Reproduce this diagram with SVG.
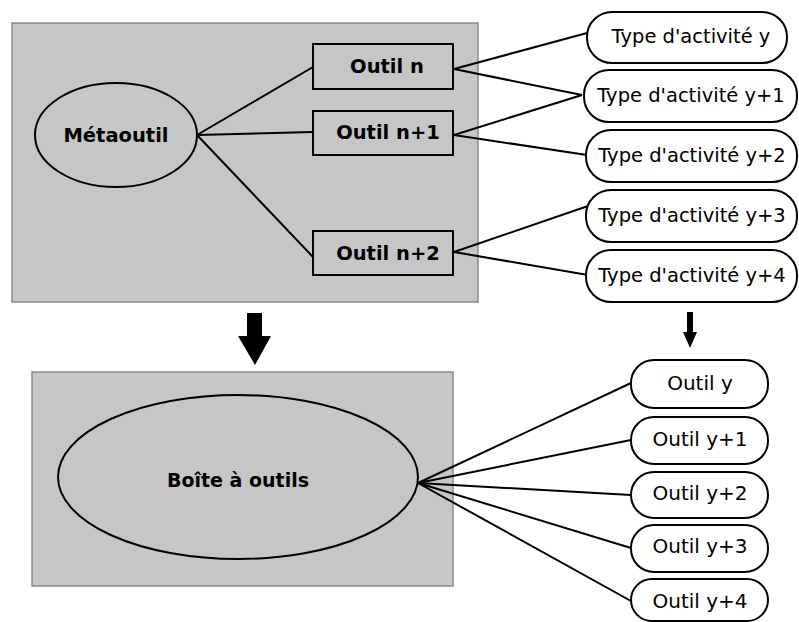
<svg xmlns="http://www.w3.org/2000/svg" width="799" height="622" viewBox="0 0 799 622">
<style>
.panel{fill:#c6c6c6;stroke:#8a8a8a;stroke-width:1.5}
.shape{fill:#c6c6c6;stroke:#000;stroke-width:2}
.pill{fill:#fff;stroke:#000;stroke-width:2}
.conn line{stroke:#000;stroke-width:2}
.b{font-family:"DejaVu Sans",Verdana,sans-serif;font-weight:bold;text-anchor:middle;fill:#000}
.n{font-family:"DejaVu Sans",Verdana,sans-serif;text-anchor:middle;fill:#000}
.arrow{fill:#000}
</style>
<rect width="799" height="622" fill="#fff"/>
<g id="panel-top"><rect class="panel" x="12" y="23" width="466" height="279"/></g>
<g id="panel-bottom"><rect class="panel" x="32" y="372" width="421" height="214"/></g>
<g id="connectors" class="conn">
<line x1="197" y1="135" x2="313" y2="67"/>
<line x1="197" y1="135" x2="313" y2="132"/>
<line x1="197" y1="135" x2="313" y2="257"/>
<line x1="454" y1="69" x2="587" y2="33"/>
<line x1="454" y1="69" x2="582" y2="95"/>
<line x1="454" y1="135" x2="582" y2="95"/>
<line x1="454" y1="135" x2="587" y2="155"/>
<line x1="454" y1="252" x2="588" y2="206"/>
<line x1="454" y1="252" x2="588" y2="275"/>
<line x1="418" y1="483" x2="631" y2="383"/>
<line x1="418" y1="483" x2="631" y2="440"/>
<line x1="418" y1="483" x2="631" y2="495"/>
<line x1="418" y1="483" x2="631" y2="548"/>
<line x1="418" y1="483" x2="631" y2="601"/>
</g>
<g id="arrow-left"><polygon class="arrow" points="247,313 262,313 262,336 271,336 255,365 238,336 247,336"/></g>
<g id="arrow-right"><polygon class="arrow" points="687,312 693,312 693,332 697,332 690,348 683,332 687,332"/></g>
<g id="metaoutil"><ellipse class="shape" cx="116" cy="135" rx="81" ry="52"/><text class="b" x="116" y="142" font-size="19.5">Métaoutil</text></g>
<g id="outil-n"><rect class="shape" x="313" y="44" width="140" height="45"/><text class="b" x="387" y="73" font-size="19.5">Outil n</text></g>
<g id="outil-n1"><rect class="shape" x="313" y="111" width="140" height="44"/><text class="b" x="388" y="139" font-size="19.5">Outil n+1</text></g>
<g id="outil-n2"><rect class="shape" x="313" y="231" width="140" height="44"/><text class="b" x="388" y="260" font-size="19.5">Outil n+2</text></g>
<g id="type-y"><rect class="pill" x="587" y="12" width="200" height="51" rx="25"/><text class="n" x="691" y="43" font-size="19.5">Type d'activité y</text></g>
<g id="type-y1"><rect class="pill" x="584" y="70" width="213" height="52" rx="25"/><text class="n" x="691" y="102" font-size="19.5">Type d'activité y+1</text></g>
<g id="type-y2"><rect class="pill" x="586" y="130" width="211" height="52" rx="25"/><text class="n" x="692" y="162" font-size="19.5">Type d'activité y+2</text></g>
<g id="type-y3"><rect class="pill" x="586" y="190" width="211" height="52" rx="25"/><text class="n" x="692" y="222" font-size="19.5">Type d'activité y+3</text></g>
<g id="type-y4"><rect class="pill" x="586" y="250" width="211" height="52" rx="25"/><text class="n" x="692" y="282" font-size="19.5">Type d'activité y+4</text></g>
<g id="boite"><ellipse class="shape" cx="238" cy="477" rx="180" ry="82"/><text class="b" x="238" y="487" font-size="19">Boîte à outils</text></g>
<g id="outil-y"><rect class="pill" x="631" y="360" width="137" height="48" rx="23"/><text class="n" x="700" y="390" font-size="20">Outil y</text></g>
<g id="outil-y1"><rect class="pill" x="631" y="417" width="137" height="47" rx="23"/><text class="n" x="700" y="446" font-size="20">Outil y+1</text></g>
<g id="outil-y2"><rect class="pill" x="631" y="472" width="137" height="46" rx="23"/><text class="n" x="700" y="500" font-size="20">Outil y+2</text></g>
<g id="outil-y3"><rect class="pill" x="631" y="525" width="137" height="47" rx="23"/><text class="n" x="700" y="553" font-size="20">Outil y+3</text></g>
<g id="outil-y4"><rect class="pill" x="631" y="579" width="137" height="42" rx="21"/><text class="n" x="700" y="608" font-size="20">Outil y+4</text></g>
</svg>
